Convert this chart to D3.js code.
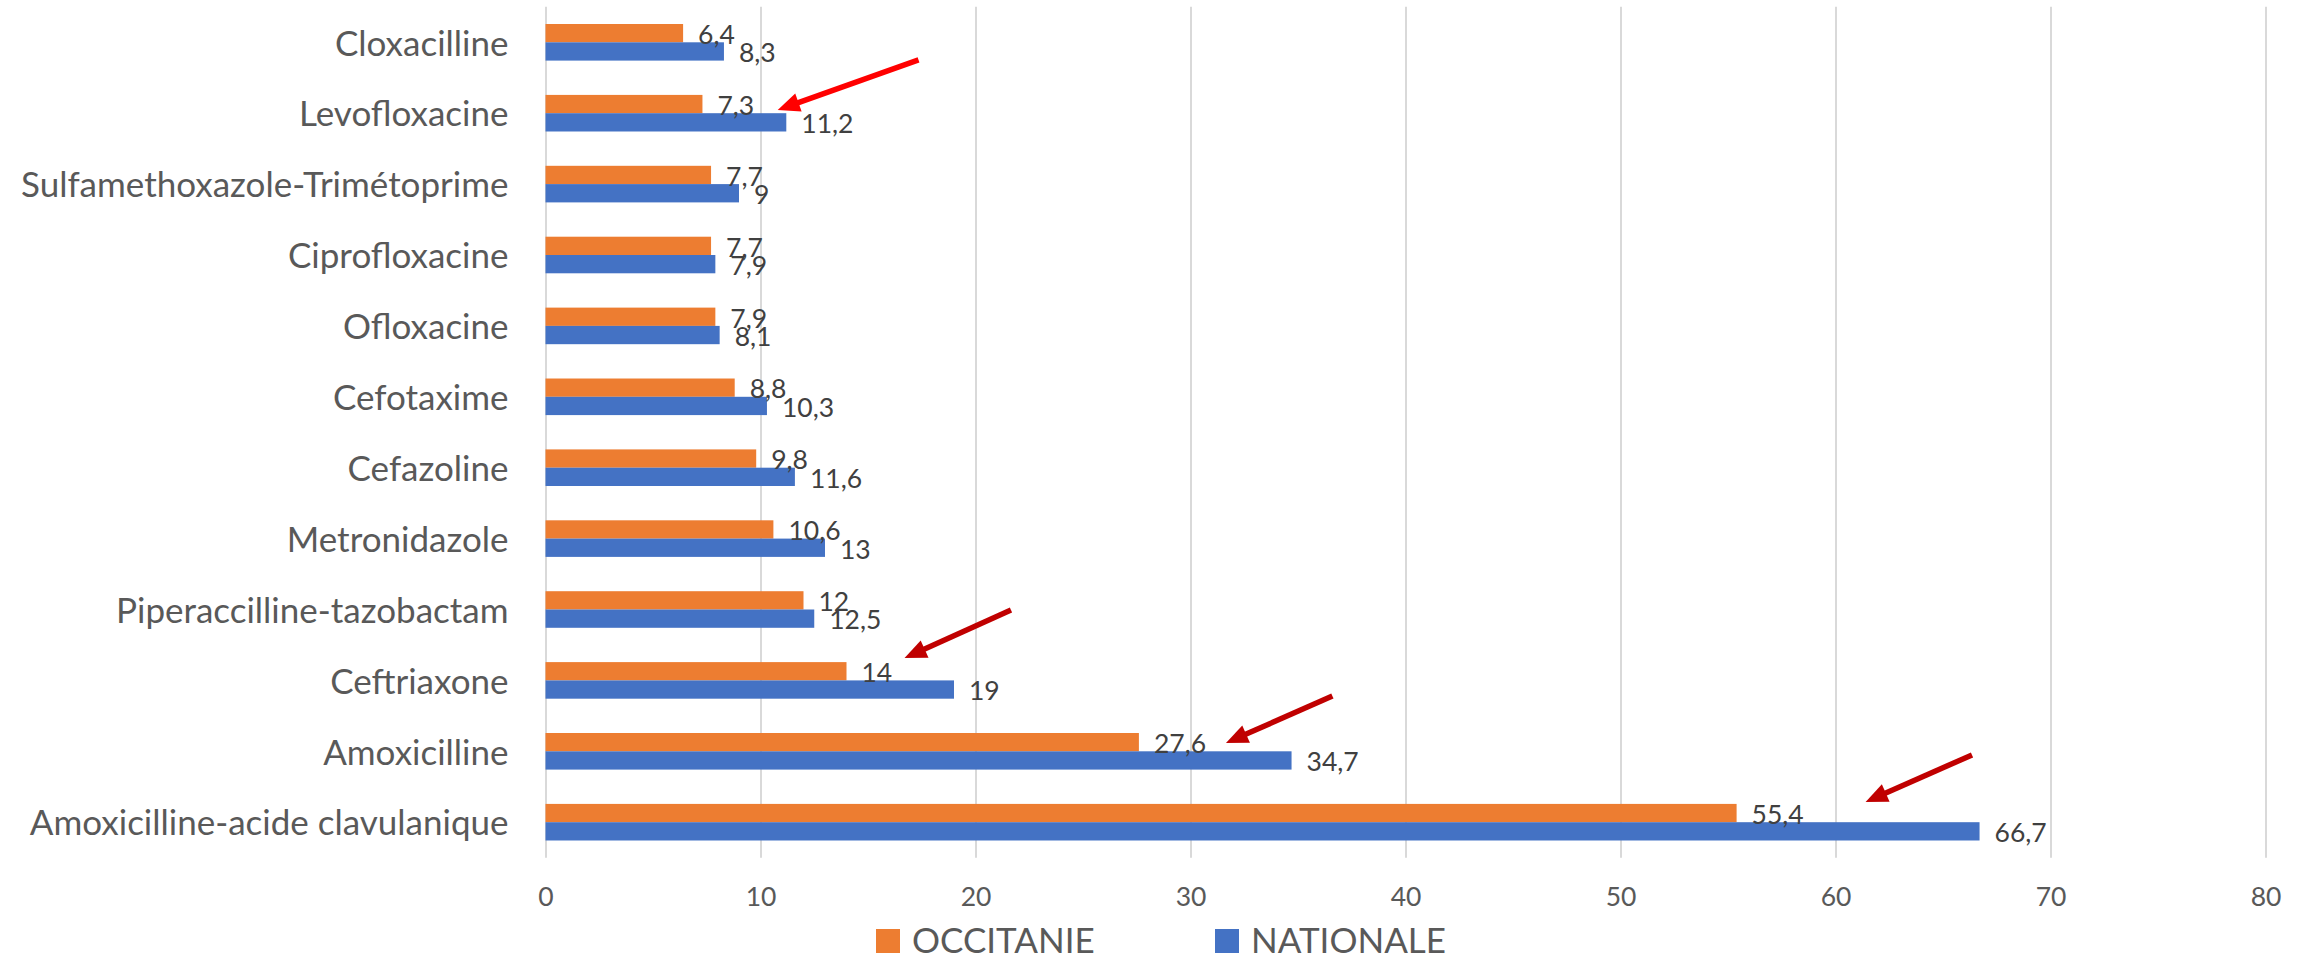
<!DOCTYPE html>
<html>
<head>
<meta charset="utf-8">
<script src="https://cdn.jsdelivr.net/npm/d3@7"></script>
<style>
  html, body { margin: 0; padding: 0; background: #ffffff; }
  svg { display: block; }
  text { font-family: Lato, "Open Sans", "Noto Sans", sans-serif; }
</style>
</head>
<body>
<svg id="chart" width="2308" height="958"></svg>
<script>
// ---------- DATA ----------
const categories = [
  "Cloxacilline",
  "Levofloxacine",
  "Sulfamethoxazole-Trimétoprime",
  "Ciprofloxacine",
  "Ofloxacine",
  "Cefotaxime",
  "Cefazoline",
  "Metronidazole",
  "Piperaccilline-tazobactam",
  "Ceftriaxone",
  "Amoxicilline",
  "Amoxicilline-acide clavulanique"
];
const occitanie = [6.4, 7.3, 7.7, 7.7, 7.9, 8.8, 9.8, 10.6, 12, 14, 27.6, 55.4];
const nationale = [8.3, 11.2, 9, 7.9, 8.1, 10.3, 11.6, 13, 12.5, 19, 34.7, 66.7];
const seriesNames = ["OCCITANIE", "NATIONALE"];
const xTicks = [0, 10, 20, 30, 40, 50, 60, 70, 80];
// annotation arrows: category, tip value, tail value (data units)
const arrowCats = ["Levofloxacine", "Ceftriaxone", "Amoxicilline", "Amoxicilline-acide clavulanique"];
const arrowTip = [10.8, 16.7, 31.65, 61.4];
const arrowTail = [17.35, 21.65, 36.6, 66.35];

// ---------- LAYOUT / STYLE ----------
const colors = ["#ED7D31", "#4472C4"];
const arrowColors = ["#FF0000", "#C00000", "#C00000", "#C00000"];
const arrowTipDy = [15, -4, 10, -2];
const arrowTailDy = [-35, -52, -37, -49];
const plot = { left: 545.5, right: 2265.5, top: 6.85, bottom: 857.65 };

const svg = d3.select("#chart");
const x = d3.scaleLinear().domain([0, 80]).range([plot.left, plot.right]);
const y = d3.scaleBand().domain(categories).range([plot.top, plot.bottom])
  .paddingInner(0.484).paddingOuter(0.242);
const sub = d3.scaleBand().domain([0, 1]).range([0, y.bandwidth()]);

// gridlines
const grid = svg.append("g").attr("transform", `translate(0,${plot.bottom})`)
  .call(d3.axisBottom(x).tickValues(xTicks).tickSize(-(plot.bottom - plot.top)).tickFormat(""));
grid.select(".domain").remove();
grid.selectAll("line").attr("stroke", "#D9D9D9").attr("stroke-width", 2);

// tick labels
const ax = svg.append("g").attr("transform", `translate(0,${plot.bottom})`)
  .call(d3.axisBottom(x).tickValues(xTicks).tickSize(0).tickFormat(d3.format("d")));
ax.select(".domain").remove();
ax.selectAll("text").attr("y", 48).attr("dy", 0)
  .style("font-size", "26.5px").attr("fill", "#595959").style("font-family", "Lato, 'Open Sans', sans-serif");

// bars
const seriesData = [occitanie, nationale];
seriesData.forEach((vals, si) => {
  svg.append("g").selectAll("rect").data(vals).join("rect")
    .attr("x", x(0))
    .attr("y", (d, i) => y(categories[i]) + sub(si))
    .attr("width", d => x(d) - x(0))
    .attr("height", sub.bandwidth())
    .attr("fill", colors[si]);
});

// data labels
const fmt = v => String(v).replace(".", ",");
seriesData.forEach((vals, si) => {
  svg.append("g").selectAll("text").data(vals).join("text")
    .attr("x", d => x(d) + 15)
    .attr("y", (d, i) => y(categories[i]) + sub(si) + sub.bandwidth() / 2 + 1.5)
    .attr("dy", "0.35em")
    .attr("fill", "#404040")
    .style("font-size", "26.5px")
    .text(fmt);
});

// category labels
svg.append("g").selectAll("text").data(categories).join("text")
  .attr("x", 508.5)
  .attr("y", d => y(d) + y.bandwidth() / 2 + 1)
  .attr("dy", "0.35em")
  .attr("text-anchor", "end")
  .attr("fill", "#595959")
  .style("font-size", "35px")
  .text(d => d);

// arrows
arrowCats.forEach((c, i) => {
  const x1 = x(arrowTail[i]), y1 = y(c) + arrowTailDy[i];
  const x2 = x(arrowTip[i]), y2 = y(c) + arrowTipDy[i];
  const ang = Math.atan2(y2 - y1, x2 - x1);
  const hl = 22, hw = 9.5;
  const bx = x2 - hl * Math.cos(ang), by = y2 - hl * Math.sin(ang);
  const g = svg.append("g");
  g.append("line").attr("x1", x1).attr("y1", y1).attr("x2", bx + 3 * Math.cos(ang)).attr("y2", by + 3 * Math.sin(ang))
    .attr("stroke", arrowColors[i]).attr("stroke-width", 5.5);
  const px = -Math.sin(ang), py = Math.cos(ang);
  g.append("polygon")
    .attr("points", [[x2, y2], [bx + hw * px, by + hw * py], [bx - hw * px, by - hw * py]].map(p => p.join(",")).join(" "))
    .attr("fill", arrowColors[i]);
});

// legend
const legendX = [876, 1215];
const leg = svg.append("g");
seriesNames.forEach((n, i) => {
  leg.append("rect").attr("x", legendX[i]).attr("y", 929).attr("width", 24).attr("height", 24).attr("fill", colors[i]);
  leg.append("text").attr("x", legendX[i] + 36).attr("y", 953)
    .attr("fill", "#595959").style("font-size", "35px").text(n);
});
</script>
</body>
</html>
